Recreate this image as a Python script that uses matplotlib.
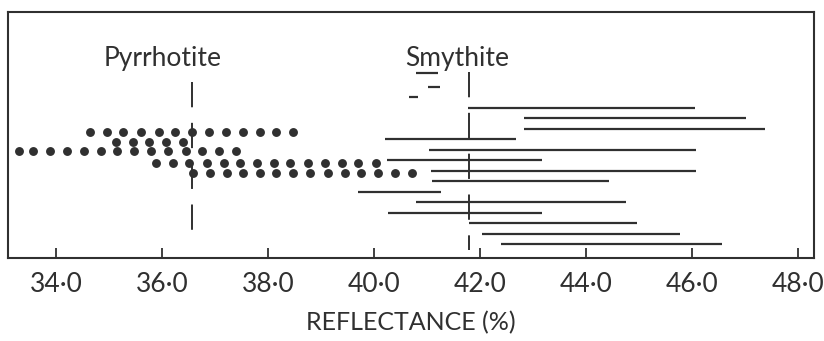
#!/usr/bin/env python3
"""reflectance ranges of pyrrhotite (dots) and smythite (bars)"""

import matplotlib
matplotlib.use("Agg")
import matplotlib.pyplot as plt

# pyrrhotite measurements, one list per row of dots
pyrr_rows = [2.3, 3.2, 4.1, 5.2, 6.2]
pyrr_values = [
    [34.65, 34.96, 35.27, 35.60, 35.94, 36.25, 36.56, 36.88, 37.20, 37.52,
     37.85, 38.16, 38.47],
    [35.13, 35.45, 35.76, 36.07, 36.39],
    [33.31, 33.56, 33.89, 34.20, 34.52, 34.84, 35.16, 35.47, 35.80, 36.12,
     36.45, 36.76, 37.07, 37.39],
    [35.89, 36.20, 36.51, 36.84, 37.17, 37.48, 37.80, 38.11, 38.42, 38.76,
     39.07, 39.39, 39.70, 40.03],
    [36.59, 36.90, 37.22, 37.53, 37.85, 38.16, 38.47, 38.80, 39.13, 39.45,
     39.76, 40.08, 40.39, 40.72],
]

# smythite reflectance ranges (min, max) per row
smy_rows = [-3.3, -2, -1, 0, 1, 2, 3, 4, 5, 6, 7, 8, 9, 10, 11, 12, 13]
smy_low = [40.79, 41.02, 40.66, 41.77, 42.82, 42.82, 40.20, 41.04, 40.25,
           41.08, 41.10, 39.70, 40.80, 40.27, 41.80, 42.03, 42.39]
smy_high = [41.21, 41.24, 40.83, 46.06, 47.02, 47.37, 42.67, 46.08, 43.16,
            46.08, 44.43, 41.27, 44.76, 43.16, 44.96, 45.78, 46.57]

# mean lines and labels
mineral_names = ["Pyrrhotite", "Smythite"]
mean_values = [36.56, 41.79]
mean_top = [-2.5, -3.45]
mean_bottom = [12.95, 13.5]
label_x = [36.02, 41.57]

xticks = [34.0, 36.0, 38.0, 40.0, 42.0, 44.0, 46.0, 48.0]
xtick_labels = ["34·0", "36·0", "38·0", "40·0", "42·0", "44·0", "46·0", "48·0"]

ink = "#303030"
plt.rcParams["font.family"] = ["Lato", "DejaVu Sans"]

fig = plt.figure(figsize=(8.24, 3.41), dpi=100)
ax = fig.add_axes([8 / 824, 83 / 341, 806 / 824, 246 / 341])

for row, vals in zip(pyrr_rows, pyrr_values):
    ax.plot(vals, [row] * len(vals), "o", color=ink, markersize=6.4,
            markeredgewidth=0)

ax.hlines(smy_rows, smy_low, smy_high, color=ink, linewidth=1.6)

for x, top, bot in zip(mean_values, mean_top, mean_bottom):
    ax.plot([x, x], [top, bot], color=ink, linewidth=1.4,
            linestyle=(0, (13, 8)))

for name, x in zip(mineral_names, label_x):
    ax.text(x, -4.0, name, ha="center", va="baseline", fontsize=19,
            color=ink)

ax.set_xlim(33.095, 48.30)
ax.set_ylim(14.29, -9.14)
ax.set_yticks([])
ax.set_xticks(xticks)
ax.set_xticklabels(xtick_labels)
ax.tick_params(axis="x", direction="in", length=7, width=1.3, colors=ink,
               labelsize=19, pad=10)
ax.set_xlabel("REFLECTANCE (%)", fontsize=18, color=ink, labelpad=10)
for s in ax.spines.values():
    s.set_linewidth(1.5)
    s.set_color(ink)

fig.savefig("out.png", dpi=100)
